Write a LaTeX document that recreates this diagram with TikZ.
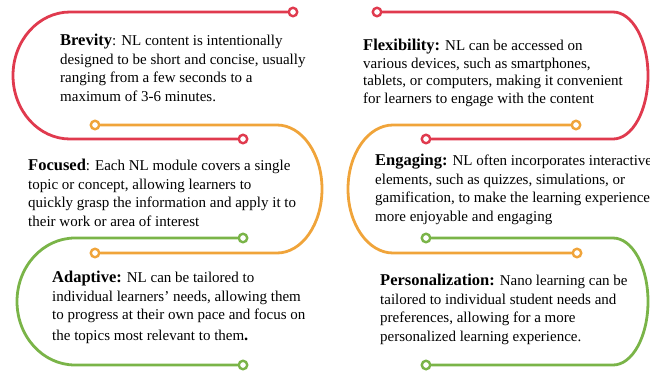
\documentclass[tikz,border=0pt]{standalone}
\usepackage{fontspec}
\setmainfont{Liberation Serif}
\definecolor{lred}{RGB}{224,58,78}
\definecolor{lorange}{RGB}{240,164,58}
\definecolor{lgreen}{RGB}{122,180,72}
\tikzset{
  track/.style={line width=2.8pt, line cap=round},
  ring/.style={circle, draw=#1, fill=white, line width=2.4pt, minimum size=8.5pt, inner sep=0pt},
  blurb/.style={anchor=north west, align=left, inner sep=0pt,
    font=\fontsize{15}{18.5}\selectfont}
}
\newcommand{\hd}[1]{{\fontsize{16.5}{18.5}\selectfont\bfseries #1}}
\begin{document}
\begin{tikzpicture}[x=1pt,y=1pt]
\useasboundingbox (0,0) rectangle (650,-373);
\clip (0,0) rectangle (650,-373);

% ring terminals
\node[ring=lred] (ra1) at (293,-12) {};
\node[ring=lred] (ra2) at (243,-139) {};
\node[ring=lred] (rb1) at (377,-12) {};
\node[ring=lred] (rb2) at (426,-139) {};
\node[ring=lorange] (oa1) at (95,-125) {};
\node[ring=lorange] (oa2) at (95,-253) {};
\node[ring=lorange] (ob1) at (576,-125) {};
\node[ring=lorange] (ob2) at (577,-253) {};
\node[ring=lgreen] (ga1) at (243,-238) {};
\node[ring=lgreen] (ga2) at (243,-365) {};
\node[ring=lgreen] (gb1) at (426,-238) {};
\node[ring=lgreen] (gb2) at (426,-365) {};

% looping tracks
\draw[track, lred] (ra1) -- (70,-12) arc[start angle=90, end angle=270, x radius=57, y radius=63.5] -- (ra2);
\draw[track, lred] (rb1) -- (613,-12) arc[start angle=90, end angle=-90, x radius=35, y radius=63.5] -- (rb2);
\draw[track, lorange] (oa1) -- (277,-125) arc[start angle=90, end angle=-90, x radius=45, y radius=64] -- (oa2);
\draw[track, lorange] (ob1) -- (393,-125) arc[start angle=90, end angle=270, x radius=45, y radius=64] -- (ob2);
\draw[track, lgreen] (ga1) -- (75,-238) arc[start angle=90, end angle=270, x radius=58, y radius=63.5] -- (ga2);
\draw[track, lgreen] (gb1) -- (613,-238) arc[start angle=90, end angle=-90, x radius=35, y radius=63.5] -- (gb2);

% text blocks
\node[blurb] (brevity) at (60,-34) {\hd{Brevity}: NL content is intentionally\\designed to be short and concise, usually\\ranging from a few seconds to a\\maximum of 3-6 minutes.};
\node[blurb, font=\fontsize{15}{17.5}\selectfont] (flex) at (363,-39) {\hd{Flexibility:} NL can be accessed on\\various devices, such as smartphones,\\tablets, or computers, making it convenient\\for learners to engage with the content};
\node[blurb] (focused) at (28,-159) {\hd{Focused}: Each NL module covers a single\\topic or concept, allowing learners to\\quickly grasp the information and apply it to\\their work or area of interest};
\node[blurb] (engaging) at (375,-154) {\hd{Engaging:} NL often incorporates interactive\\elements, such as quizzes, simulations, or\\gamification, to make the learning experience\\more enjoyable and engaging};
\node[blurb] (adaptive) at (52,-271) {\hd{Adaptive:} NL can be tailored to\\individual learners' needs, allowing them\\to progress at their own pace and focus on\\[2pt]the topics most relevant to them\hd{.}};
\node[blurb] (personal) at (380,-274) {\hd{Personalization:} Nano learning can be\\tailored to individual student needs and\\preferences, allowing for a more\\personalized learning experience.};
\end{tikzpicture}
\end{document}
